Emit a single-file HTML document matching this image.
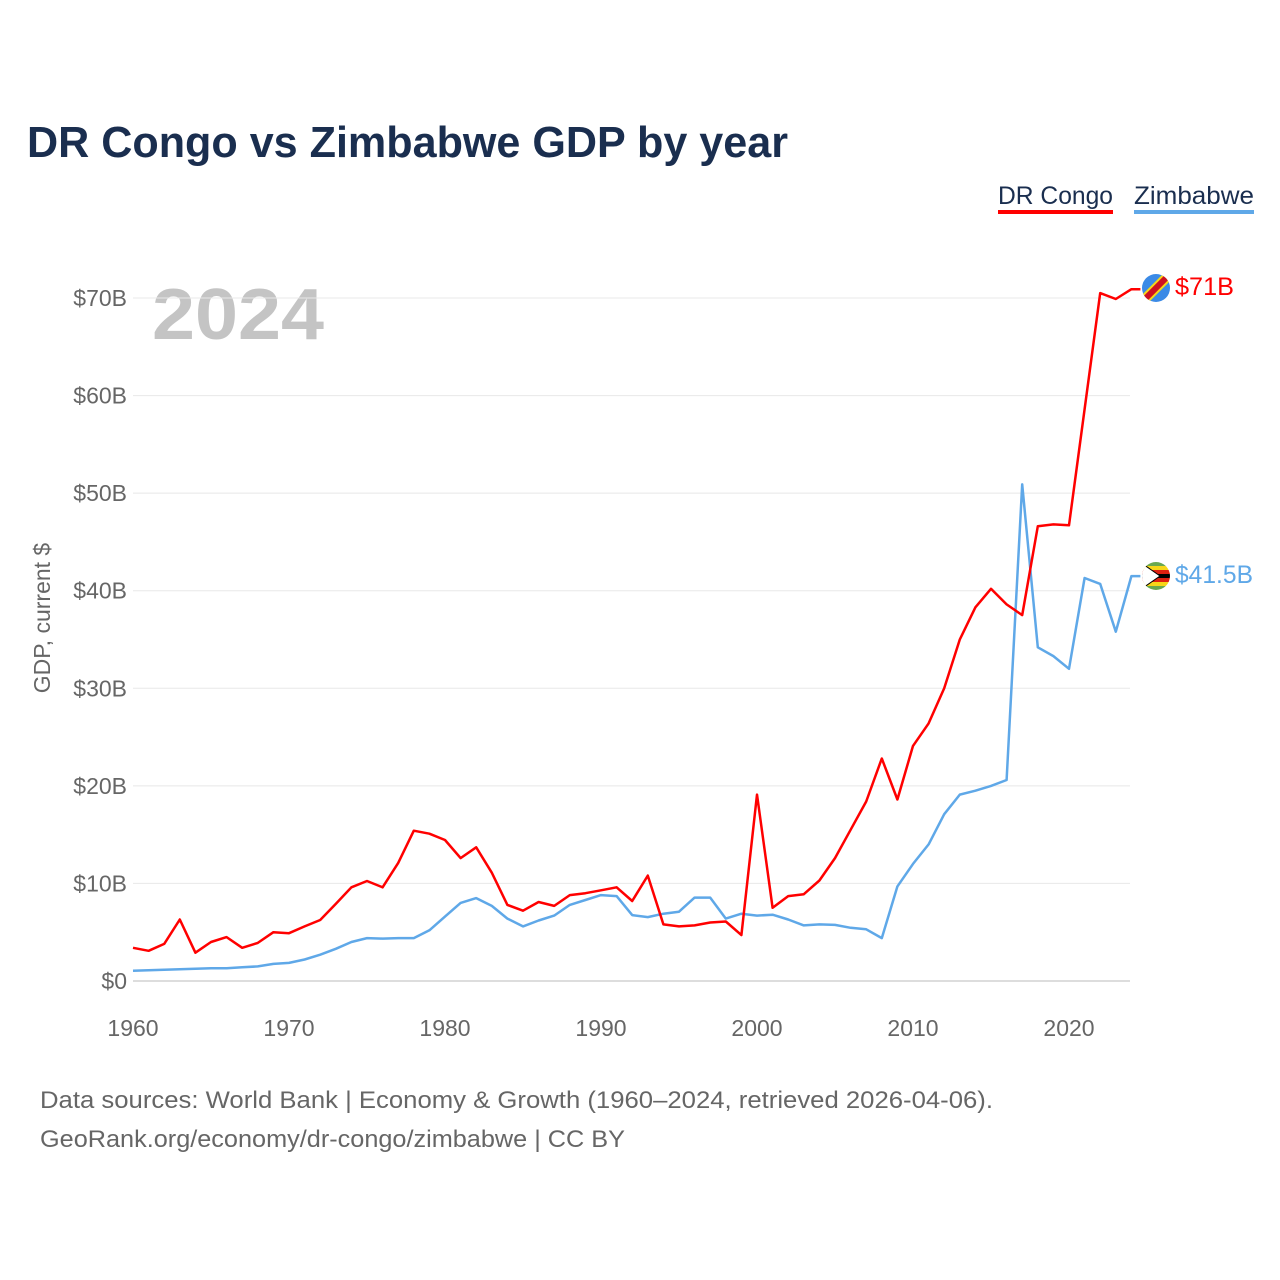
<!DOCTYPE html>
<html><head><meta charset="utf-8">
<style>
html,body{margin:0;padding:0;background:#fff;width:1280px;height:1280px;overflow:hidden;font-family:"Liberation Sans",sans-serif}
</style></head>
<body>
<svg id="chart" width="1280" height="1280" xmlns="http://www.w3.org/2000/svg" font-family="Liberation Sans, sans-serif">
<text x="27" y="157" font-size="44" font-weight="bold" fill="#1a2e4f" textLength="761" lengthAdjust="spacingAndGlyphs">DR Congo vs Zimbabwe GDP by year</text>
<g>
<text x="998" y="204" font-size="25" fill="#1a2e4f" textLength="115" lengthAdjust="spacingAndGlyphs">DR Congo</text>
<rect x="998" y="210" width="115" height="4" fill="#ff0000"/>
</g>
<g>
<text x="1134" y="204" font-size="25" fill="#1a2e4f" textLength="120" lengthAdjust="spacingAndGlyphs">Zimbabwe</text>
<rect x="1134" y="210" width="120" height="4" fill="#5fa8e8"/>
</g>
<text x="152" y="339" font-size="72" font-weight="bold" fill="#c4c4c4" textLength="172" lengthAdjust="spacingAndGlyphs">2024</text>
<text transform="translate(50,618) rotate(-90)" text-anchor="middle" font-size="23" fill="#666">GDP, current $</text>
<g id="grid"></g><g id="yticks"></g><g id="xticks"></g><g id="lines"></g>
<g>
<clipPath id="c1"><circle cx="1156" cy="288" r="14"/></clipPath>
<g clip-path="url(#c1)"><rect x="1140" y="272" width="32" height="32" fill="#3b8ae6"/>
<line x1="1140" y1="304" x2="1172" y2="272" stroke="#f7d618" stroke-width="10"/>
<line x1="1140" y1="304" x2="1172" y2="272" stroke="#ce1021" stroke-width="6"/></g>
</g>
<g>
<clipPath id="c2"><circle cx="1156" cy="576" r="14"/></clipPath>
<g clip-path="url(#c2)">
<rect x="1140" y="562" width="32" height="4" fill="#6aa84f"/><rect x="1140" y="566" width="32" height="4" fill="#f7d618"/>
<rect x="1140" y="570" width="32" height="4" fill="#de2010"/><rect x="1140" y="574" width="32" height="4" fill="#000"/>
<rect x="1140" y="578" width="32" height="4" fill="#de2010"/><rect x="1140" y="582" width="32" height="4" fill="#f7d618"/>
<rect x="1140" y="586" width="32" height="4" fill="#6aa84f"/>
<polygon points="1140,562 1160,576 1140,590" fill="#fff" stroke="#000" stroke-width="1"/></g>
</g>
<text x="1175" y="295" font-size="25" fill="#ff0000" textLength="59" lengthAdjust="spacingAndGlyphs">$71B</text>
<text x="1175" y="583" font-size="25" fill="#5fa8e8" textLength="78" lengthAdjust="spacingAndGlyphs">$41.5B</text>
<text x="40" y="1108" font-size="24" fill="#666" textLength="953" lengthAdjust="spacingAndGlyphs">Data sources: World Bank | Economy &amp; Growth (1960–2024, retrieved 2026-04-06).</text>
<text x="40" y="1147" font-size="24" fill="#666" textLength="585" lengthAdjust="spacingAndGlyphs">GeoRank.org/economy/dr-congo/zimbabwe | CC BY</text>
</svg>
<script>
const years=[];for(let y=1960;y<=2024;y++)years.push(y);
const drCongo=[3.4,3.1,3.8,6.3,2.9,4.0,4.5,3.4,3.9,5.0,4.9,5.6,6.25,7.9,9.6,10.25,9.6,12.1,15.4,15.1,14.45,12.6,13.7,11.1,7.8,7.2,8.1,7.7,8.8,9.0,9.3,9.6,8.2,10.8,5.8,5.6,5.7,6.0,6.1,4.7,19.1,7.5,8.7,8.9,10.3,12.6,15.5,18.4,22.8,18.6,24.1,26.4,30.0,35.0,38.3,40.2,38.6,37.5,46.6,46.8,46.7,58.6,70.5,69.9,70.9];
const zimbabwe=[1.05,1.1,1.15,1.2,1.25,1.3,1.3,1.4,1.5,1.75,1.85,2.2,2.7,3.3,4.0,4.4,4.35,4.4,4.4,5.2,6.6,8.0,8.5,7.7,6.4,5.6,6.2,6.7,7.8,8.3,8.8,8.7,6.75,6.55,6.9,7.1,8.55,8.55,6.4,6.9,6.7,6.8,6.3,5.7,5.8,5.75,5.45,5.3,4.4,9.7,12.0,14.0,17.1,19.1,19.5,20.0,20.6,50.9,34.2,33.3,32.0,41.3,40.7,35.8,41.5];
const yTicks=[0,10,20,30,40,50,60,70];
const xTicks=[1960,1970,1980,1990,2000,2010,2020];
const NS="http://www.w3.org/2000/svg";
const X=y=>133+(y-1960)*15.6;
const Y=v=>981-v*9.757;
function mk(tag,attrs,parent){const e=document.createElementNS(NS,tag);for(const k in attrs)e.setAttribute(k,attrs[k]);document.getElementById(parent).appendChild(e);return e;}
yTicks.forEach(t=>{
 const l=mk('line',{x1:133,x2:1130,y1:Y(t),y2:Y(t),stroke:t===0?'#ddd':'#e8e8e8','stroke-width':t===0?2:1},'grid');
 
 
 const tx=mk('text',{x:127,y:Y(t)+8,'text-anchor':'end','font-size':23,fill:'#666'},'yticks');
 tx.textContent='$'+t+(t===0?'':'B');
 
 
});
xTicks.forEach(t=>{
 const tx=mk('text',{x:X(t),y:1036,'text-anchor':'middle','font-size':23,fill:'#666'},'xticks');
 tx.textContent=t;
 
 
});
function line(vals,color,name){
 let d=vals.map((v,i)=>(i?'L':'M')+X(years[i]).toFixed(1)+' '+Y(v).toFixed(1)).join(' ');
 d+=' L'+(X(2024)+9)+' '+Y(vals[vals.length-1]).toFixed(1);
 const p=mk('path',{d:d,fill:'none',stroke:color,'stroke-width':2.5,'stroke-linejoin':'round'},'lines');
 
 
}
line(zimbabwe,'#5fa8e8','zimbabwe-line');
line(drCongo,'#ff0000','dr-congo-line');
</script>
</body></html>
